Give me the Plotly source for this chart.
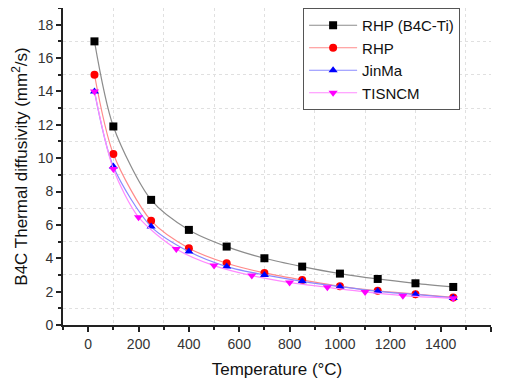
import plotly.graph_objects as go

# Data
x_main = [25, 100, 250, 400, 550, 700, 850, 1000, 1150, 1300, 1450]
rhp_b4c_ti = [17.0, 11.9, 7.5, 5.7, 4.7, 4.0, 3.5, 3.08, 2.76, 2.5, 2.28]
rhp = [15.0, 10.25, 6.25, 4.6, 3.7, 3.12, 2.7, 2.32, 2.05, 1.85, 1.65]
jinma = [14.0, 9.5, 5.9, 4.4, 3.5, 3.0, 2.62, 2.3, 2.02, 1.83, 1.62]
x_tisncm = [25, 100, 200, 350, 500, 650, 800, 950, 1100, 1250, 1450]
tisncm = [14.0, 9.35, 6.46, 4.56, 3.56, 2.96, 2.54, 2.26, 1.98, 1.76, 1.6]

font = "Liberation Sans, Arial, sans-serif"

fig = go.Figure()
series = [
    ("RHP (B4C-Ti)", x_main, rhp_b4c_ti, "#8c8c8c", "black", "square"),
    ("RHP", x_main, rhp, "#ff8a8a", "red", "circle"),
    ("JinMa", x_main, jinma, "#8a8aff", "blue", "triangle-up"),
    ("TISNCM", x_tisncm, tisncm, "#ff8aff", "magenta", "triangle-down"),
]
for name, xs, ys, lc, mc, sym in series:
    fig.add_trace(go.Scatter(
        x=xs, y=ys, name=name, mode="lines+markers",
        line=dict(color=lc, width=1.2, shape="spline", smoothing=0.8),
        marker=dict(color=mc, symbol=sym, size=8, line=dict(width=0)),
    ))

axis_common = dict(
    showline=True, linecolor="#222", linewidth=1.8, mirror=False,
    ticks="outside", ticklen=5, tickwidth=1.5, tickcolor="#222",
    showgrid=False, zeroline=False,
    tickfont=dict(family=font, size=14, color="#333"),
)

fig.update_xaxes(
    range=[-100, 1600], tick0=0, dtick=200,
    minor=dict(dtick=100, tick0=0, ticks="outside", ticklen=3, tickwidth=1.5,
               tickcolor="#222", showgrid=True, gridcolor="#e0e0e0",
               griddash="dot", gridwidth=1),
    title=dict(text="Temperature (°C)", font=dict(family=font, size=17, color="#111"), standoff=12),
    **axis_common,
)
fig.update_yaxes(
    range=[0, 19], tick0=0, dtick=2,
    minor=dict(dtick=1, tick0=0, ticks="outside", ticklen=3, tickwidth=1.5,
               tickcolor="#222", showgrid=True, gridcolor="#e0e0e0",
               griddash="dot", gridwidth=1),
    title=dict(text="B4C Thermal diffusivity (mm<sup>2</sup>/s)",
               font=dict(family=font, size=17, color="#111"), standoff=6),
    **axis_common,
)

fig.update_layout(
    width=497, height=374,
    margin=dict(l=55, r=14, t=0, b=57),
    paper_bgcolor="white", plot_bgcolor="white",
    showlegend=True,
    legend=dict(
        x=0.561, y=1.0, xanchor="left", yanchor="top",
        bordercolor="#555", borderwidth=1, bgcolor="white",
        font=dict(family=font, size=15, color="#111"),
        itemwidth=48, tracegroupgap=0,
    ),
)

fig.write_html("out.html")
